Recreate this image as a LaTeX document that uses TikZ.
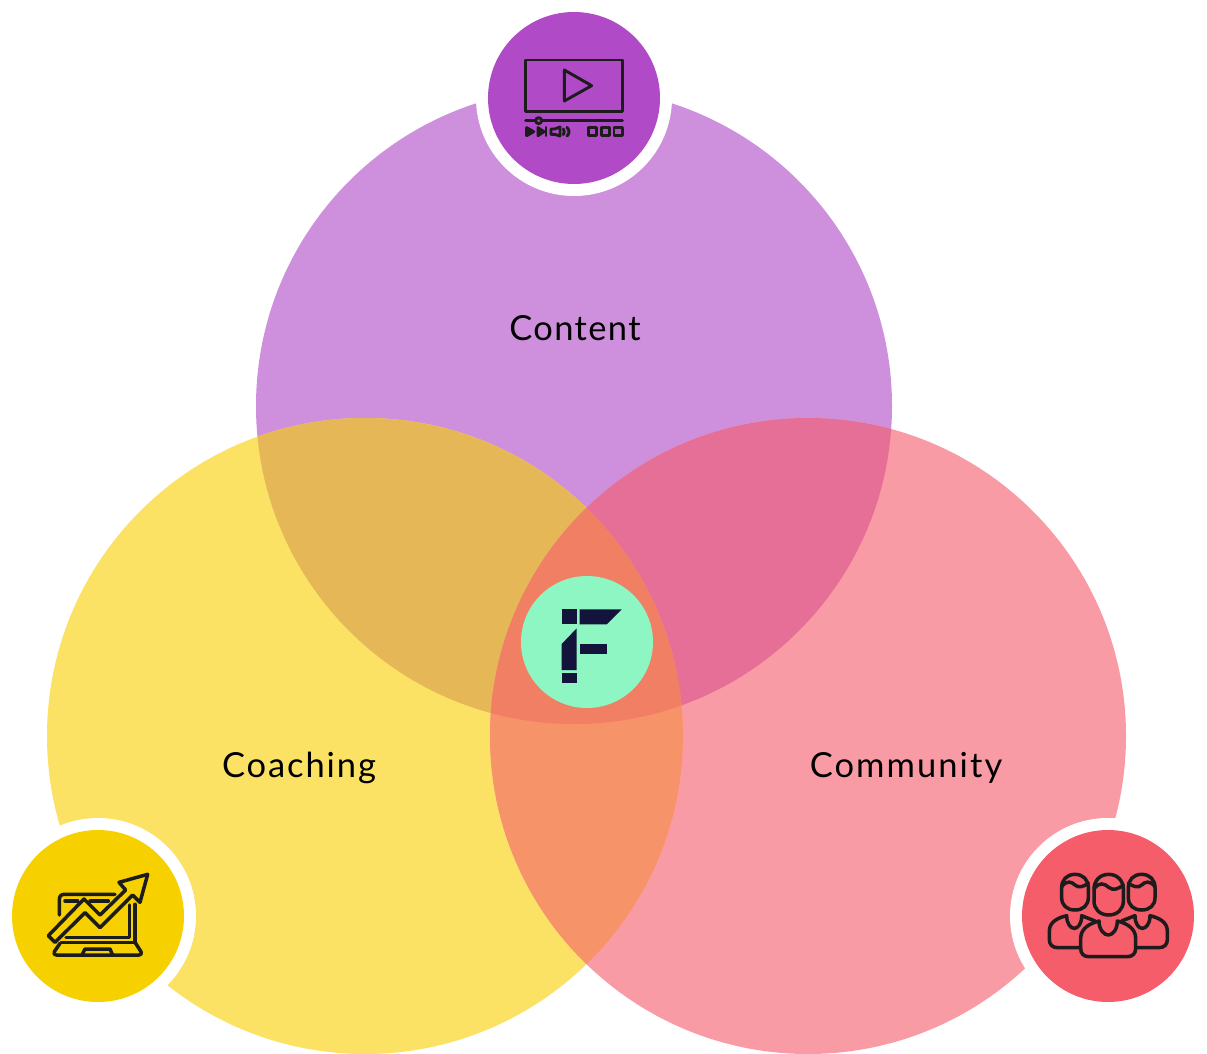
\documentclass[tikz,border=0pt]{standalone}
\usepackage{fontspec}
\setmainfont[LetterSpace=4]{Lato}
\newfontfamily\lblwide[LetterSpace=5.5]{Lato}
\newfontfamily\lblwider[LetterSpace=6]{Lato}
\definecolor{cPurple}{HTML}{CE8FDC}
\definecolor{cYellow}{HTML}{FBE164}
\definecolor{cPink}{HTML}{F99BA5}
\definecolor{cPY}{HTML}{E5B757}
\definecolor{cPP}{HTML}{E66F97}
\definecolor{cYP}{HTML}{F79368}
\definecolor{cAll}{HTML}{F07F63}
\definecolor{iPurple}{HTML}{B04AC6}
\definecolor{iYellow}{HTML}{F7D000}
\definecolor{iPink}{HTML}{F55D6B}
\definecolor{iInk}{HTML}{1C1C1C}
\definecolor{cMint}{HTML}{8EF6C2}
\definecolor{cNavy}{HTML}{14133B}
\tikzset{
  lbl/.style={font=\fontsize{34.5}{40}\selectfont, text=black, inner sep=0pt, anchor=base},
  iconline/.style={draw=iInk, line width=2.9pt, line cap=round, line join=round},
  thickicon/.style={iconline, line width=3.5pt},
  zoomed/.style={x=0.33333pt, y=-0.33333pt},
}
\begin{document}
\begin{tikzpicture}[x=1pt,y=-1pt]
\useasboundingbox (0,0) rectangle (1207,1054);
\def\Ca{(574,406) circle[radius=318]}
\def\Cb{(365,736) circle[radius=318]}
\def\Cc{(808,736) circle[radius=318]}
\fill[cPurple] \Ca;
\fill[cYellow] \Cb;
\fill[cPink] \Cc;
\begin{scope}\clip \Ca; \fill[cPY] \Cb; \fill[cPP] \Cc; \end{scope}
\begin{scope}\clip \Cb; \fill[cYP] \Cc; \end{scope}
\begin{scope}\clip \Ca; \clip \Cb; \fill[cAll] \Cc; \end{scope}
% icon discs with white rings
\fill[white] (574,98) circle[radius=98];
\fill[white] (98,916) circle[radius=98];
\fill[white] (1108,916) circle[radius=98];
\fill[iPurple] (574,98) circle[radius=86];
\fill[iYellow] (98,916) circle[radius=86];
\fill[iPink] (1108,916) circle[radius=86];
\fill[cMint] (587,642) circle[radius=66];
% labels
\node[lbl] (content) at (575,340) {Content};
\node[lbl] (coaching) at (299,777) {\lblwide Coaching};
\node[lbl] (community) at (906,777) {\lblwider Community};
% video icon
\begin{scope}[shift={(480,5)},zoomed]
\draw[iconline] (137,165) rectangle (427,320);
\draw[iconline] (253,195) -- (335,242) -- (253,288) -- cycle;
\draw[iconline] (137,347) -- (427,347);
\draw[iconline,fill=iPurple] (176,347) circle[radius=9];
\draw[iconline,fill=iInk] (140,368) -- (161,380) -- (140,392) -- cycle;
\draw[iconline,fill=iInk] (174,368) -- (192,380) -- (174,392) -- cycle;
\draw[iconline] (198,367) -- (198,392);
\draw[iconline] (213,372) -- (224,372) -- (240,366) -- (240,393) -- (224,388) -- (213,388) -- cycle;
\draw[iconline] (250,372) .. controls (254,377) and (254,384) .. (250,389);
\draw[iconline] (261,367) .. controls (269,375) and (269,386) .. (261,393);
\draw[iconline] (326,367) rectangle (350,392);
\draw[iconline] (364,367) rectangle (388,392);
\draw[iconline] (402,367) rectangle (427,392);
\end{scope}
% chart icon
\begin{scope}[shift={(5,825)},zoomed,every path/.style={thickicon}]
\draw (163,270) -- (163,224) .. controls (163,214) and (168,208) .. (178,208) -- (330,208);
\draw (180,228) -- (218,228);
\draw (255,228) -- (310,228);
\draw (390,238) -- (390,352) -- (168,352);
\draw (373,240) -- (373,338) -- (183,338);
\draw (165,355) -- (148,380) .. controls (145,386) and (148,390) .. (154,390) -- (402,390) .. controls (408,390) and (411,386) .. (408,380) -- (390,352);
\draw (232,388) -- (240,372) -- (315,372) -- (322,388);
\draw (130,332) -- (237,222) -- (285,270) -- (362,195) -- (342,172) -- (428,148) -- (405,232) -- (383,210) -- (285,308) -- (240,263) -- (150,352) -- cycle;
\end{scope}
% people icon
\begin{scope}[shift={(1015,825)},zoomed]
\foreach \m/\o in {1/0,-1/560}{
\begin{scope}[shift={(\o,0)},x=\m*0.33333pt]
\draw[thickicon] (197,368) -- (128,368) .. controls (112,368) and (103,358) .. (103,344) -- (103,318) .. controls (103,290) and (130,278) .. (155,272) .. controls (155,298) and (168,310) .. (178,310) .. controls (188,310) and (200,298) .. (200,272) -- (240,288);
\draw[thickicon] (180,148) .. controls (205,148) and (220,165) .. (220,188) -- (220,218) .. controls (220,240) and (205,255) .. (180,255) .. controls (155,255) and (140,240) .. (140,218) -- (140,188) .. controls (140,165) and (155,148) .. (180,148) -- cycle;
\draw[thickicon] (140,185) .. controls (155,165) and (170,170) .. (180,180) .. controls (190,190) and (205,185) .. (220,175);
\end{scope}}
\draw[thickicon] (222,395) .. controls (205,395) and (197,385) .. (197,370) -- (197,340) .. controls (197,310) and (225,295) .. (252,288) .. controls (252,315) and (268,330) .. (280,330) .. controls (292,330) and (307,315) .. (307,288) .. controls (335,295) and (362,310) .. (362,340) -- (362,370) .. controls (362,385) and (353,395) .. (337,395) -- cycle;
\draw[thickicon] (281,148) .. controls (308,148) and (325,168) .. (325,192) -- (325,228) .. controls (325,252) and (308,270) .. (281,270) .. controls (254,270) and (237,252) .. (237,228) -- (237,192) .. controls (237,168) and (254,148) .. (281,148) -- cycle;
\draw[thickicon] (237,192) .. controls (252,170) and (268,175) .. (281,187) .. controls (295,198) and (310,192) .. (325,180);
\end{scope}
% logo
\begin{scope}[shift={(510,565)},zoomed]
\fill[cNavy] (155,133) rectangle (200,178);
\fill[cNavy] (209,133) -- (335,133) -- (290,178) -- (209,178) -- cycle;
\fill[cNavy] (155,237) -- (200,190) -- (200,315) -- (155,315) -- cycle;
\fill[cNavy] (209,237) rectangle (290,268);
\fill[cNavy] (155,323) rectangle (200,355);
\end{scope}
\end{tikzpicture}
\end{document}
